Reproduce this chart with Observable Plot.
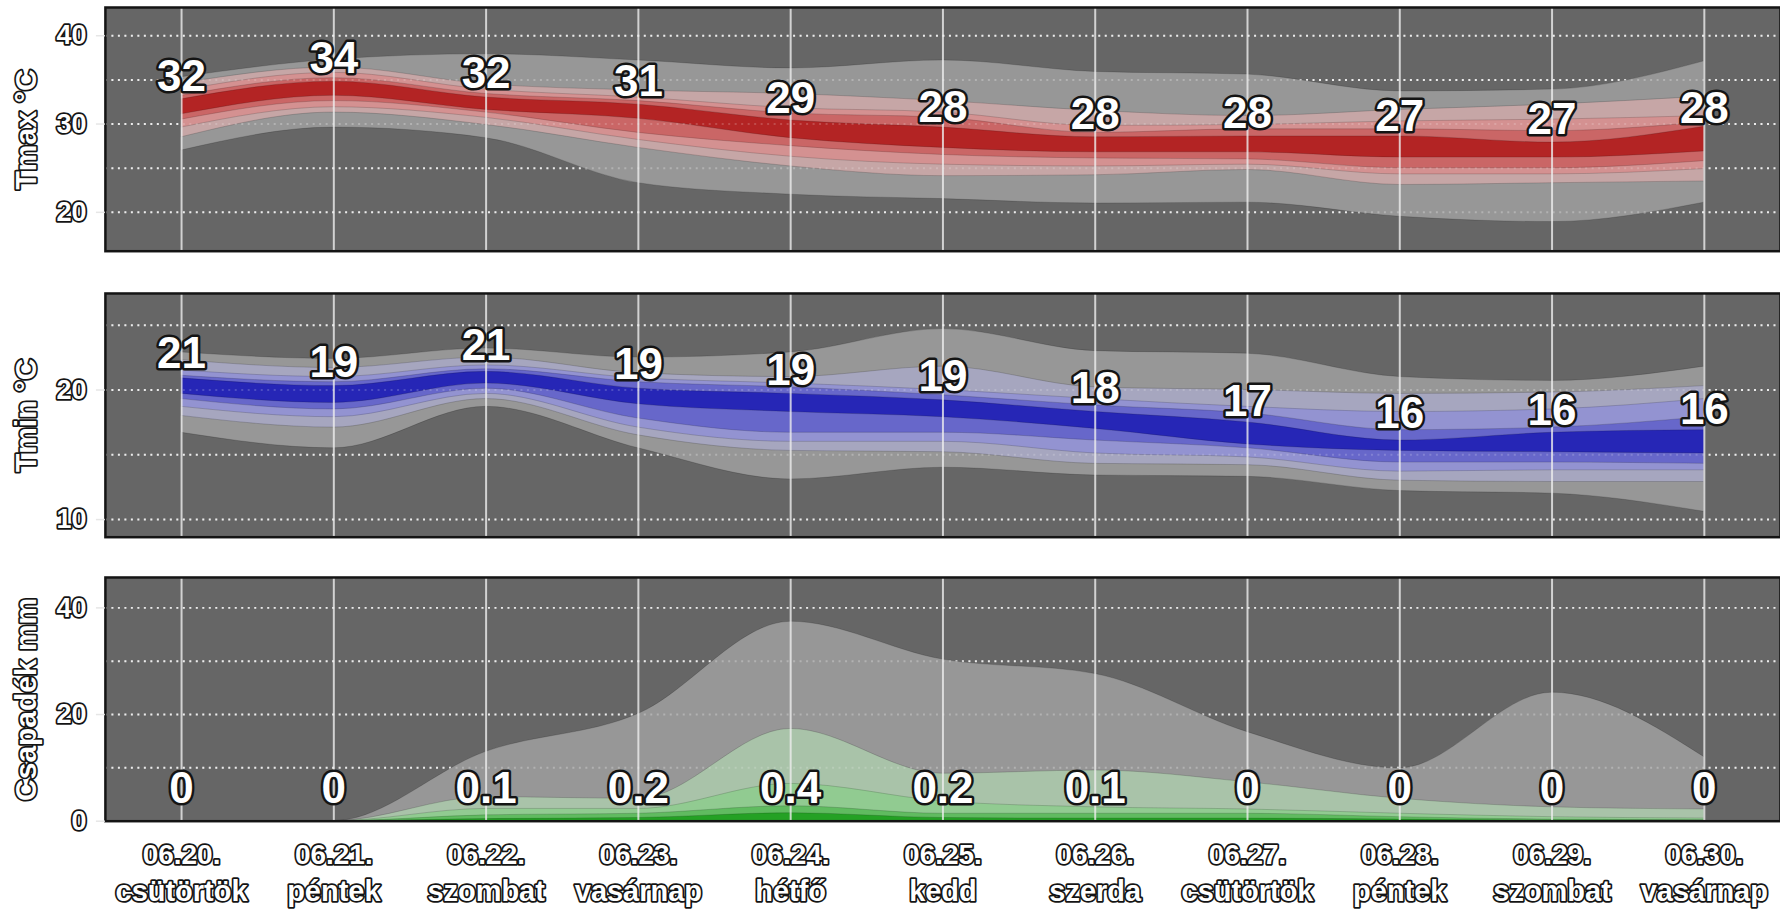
<!DOCTYPE html>
<html><head><meta charset="utf-8">
<script src="https://cdn.jsdelivr.net/npm/d3@7"></script>
<script src="https://cdn.jsdelivr.net/npm/@observablehq/plot@0.6"></script>
<style>
html,body{margin:0;padding:0;background:#fff;overflow:hidden;width:1780px;height:910px}
#chart svg{display:block}
</style></head><body><div id="chart"></div>
<script>
// ---------- data ----------
const days = [0,1,2,3,4,5,6,7,8,9,10];
const dateLabels = ["06.20.","06.21.","06.22.","06.23.","06.24.","06.25.","06.26.","06.27.","06.28.","06.29.","06.30."];
const dayNames = ["csütörtök","péntek","szombat","vasárnap","hétfő","kedd","szerda","csütörtök","péntek","szombat","vasárnap"];

// Tmax °C
const tmaxLabels = [32,34,32,31,29,28,28,28,27,27,28];
const tmaxGreyHi = [35.3,37.3,37.9,37.2,36.3,37.2,35.9,35.6,33.7,33.9,37.1];
const tmaxGreyLo = [27.0,29.6,28.4,23.3,22.0,21.5,21.0,21.1,19.5,18.9,21.1];
const tmaxB1Hi   = [34.6,36.4,34.5,33.8,33.4,32.6,31.5,30.9,31.6,32.2,33.1];
const tmaxB1Lo   = [28.5,31.3,29.9,27.3,25.2,24.1,24.2,24.8,23.1,23.3,23.5];
const tmaxB2Hi   = [33.8,35.8,33.9,33.0,31.8,31.3,29.8,29.9,30.3,30.5,30.9];
const tmaxB2Lo   = [29.6,31.9,30.7,28.2,26.3,25.4,25.2,25.4,24.3,24.3,24.9];
const tmaxB3Hi   = [33.2,35.2,33.4,32.6,31.2,30.7,29.0,29.4,29.4,29.2,30.2];
const tmaxB3Lo   = [30.5,32.6,31.3,29.0,27.5,26.5,26.1,26.0,25.0,25.0,25.8];
const tmaxB4Hi   = [32.8,34.8,33.0,32.2,30.4,29.6,28.5,28.6,28.6,27.9,29.7];
const tmaxB4Lo   = [31.1,33.2,31.6,30.6,28.4,27.3,26.8,26.8,26.2,26.2,26.9];

// Tmin °C
const tminLabels = [21,19,21,19,19,19,18,17,16,16,16];
const tminGreyHi = [22.9,22.4,23.2,22.5,22.9,24.7,23.0,22.8,21.0,20.7,21.8];
const tminGreyLo = [16.7,15.5,18.7,15.5,13.1,14.0,13.4,13.3,12.2,12.0,10.6];
const tminB1Hi   = [22.3,21.7,22.5,21.3,21.0,21.8,20.2,20.0,19.7,19.8,20.3];
const tminB1Lo   = [18.0,17.1,19.3,16.5,15.3,15.2,14.3,14.2,13.0,12.9,12.9];
const tminB2Hi   = [21.5,21.0,21.9,20.9,20.5,20.0,19.3,18.7,18.3,18.5,19.3];
const tminB2Lo   = [18.7,17.9,19.7,17.1,16.0,16.0,15.1,14.8,13.7,13.8,13.8];
const tminB3Hi   = [21.1,20.6,21.6,20.6,20.2,19.6,18.8,18.2,16.9,17.1,17.9];
const tminB3Lo   = [19.3,18.5,20.1,17.8,16.7,16.7,16.1,15.5,14.4,14.4,14.3];
const tminB4Hi   = [20.9,20.3,21.4,20.1,19.7,19.2,18.3,17.5,16.1,16.7,16.9];
const tminB4Lo   = [19.7,19.0,20.5,18.9,18.3,17.9,17.0,15.8,15.3,15.2,15.1];

// Csapadék mm (upper edges, lower edge 0)
const precLabels = ["0","0","0.1","0.2","0.4","0.2","0.1","0","0","0","0"];
const precGrey = [0,0,13.0,20.1,37.4,30.3,27.6,16.7,9.9,24.1,12.0];
const precB1   = [0,0,4.5,4.2,17.3,8.9,9.5,7.3,4.2,2.6,2.2];
const precB2   = [0,0,2.3,2.3,7.0,3.7,2.6,2.2,1.4,0.75,0.5];
const precB3   = [0,0,1.1,1.4,2.8,1.4,1.4,1.4,0.75,0.3,0.2];
const precB4   = [0,0,0.4,0.6,1.5,0.6,0.5,0.5,0.3,0.1,0.1];
const zeros    = [0,0,0,0,0,0,0,0,0,0,0];

// ---------- drawing ----------
const FONT = "Liberation Sans, Arial, sans-serif";
const outlined = {fill: "white", stroke: "#141414", strokeWidth: 5, strokeLinejoin: "round", paintOrder: "stroke", fontFamily: FONT, fontWeight: "bold"};

function panel(o) {
  const marks = [
    Plot.frame({fill: "#666666"}),
    Plot.ruleY(o.grid, {y: d => d, stroke: "white", strokeWidth: 2, strokeDasharray: "2,4.5", strokeOpacity: 0.85}),
    ...o.bands.map(b => Plot.areaY(days, {
      x: d => d, y1: d => b.lo[d], y2: d => b.hi[d], curve: "monotone-x",
      fill: b.color, fillOpacity: 0.93, stroke: "black", strokeOpacity: 0.16, strokeWidth: 1
    })),
    Plot.ruleY(o.grid, {y: d => d, stroke: "white", strokeWidth: 2, strokeDasharray: "2,4.5", strokeOpacity: 0.18}),
    Plot.ruleX(days, {x: d => d, stroke: "#eeeeee", strokeWidth: 2, strokeOpacity: 0.8}),
    Plot.frame({stroke: "#141414", strokeWidth: 2.5}),
    Plot.axisY({ticks: o.ticks, tickSize: 9, tickFormat: () => "", stroke: "#e6e6e6", strokeWidth: 1.5}),
    Plot.text(o.ticks, {y: d => d, text: d => String(d), frameAnchor: "left", dx: -19, textAnchor: "end", fontSize: 27, ...outlined, strokeWidth: 3.5}),
    Plot.text([o.title], {frameAnchor: "left", dx: -79, rotate: -90, textAnchor: "middle", fontSize: 30, ...outlined, strokeWidth: 3.5}),
    Plot.text(days, {x: d => d, y: d => o.labelY(d), text: d => String(o.labels[d]), dy: o.labelDy, fontSize: 44, ...outlined})
  ];
  if (o.xLabels) {
    marks.push(
      Plot.text(days, {x: d => d, text: d => dateLabels[d], frameAnchor: "bottom", dy: 43, fontSize: 28, ...outlined, strokeWidth: 3.5}),
      Plot.text(days, {x: d => d, text: d => dayNames[d], frameAnchor: "bottom", dy: 80, fontSize: 29, ...outlined, strokeWidth: 3.5})
    );
  }
  return Plot.plot({
    width: 1782, height: o.height,
    marginLeft: 105, marginRight: 0, marginTop: o.marginTop, marginBottom: o.marginBottom,
    x: {domain: [-0.5, 10.5], axis: null},
    y: {domain: o.domain},
    style: {background: "white", overflow: "visible"},
    marks
  });
}

const chart = document.getElementById("chart");

chart.append(panel({
  height: 272, marginTop: 7, marginBottom: 21, domain: [15.6, 43.2],
  ticks: [20, 30, 40], grid: [20, 25, 30, 35, 40], title: "Tmax °C",
  bands: [
    {lo: tmaxGreyLo, hi: tmaxGreyHi, color: "#9b9b9b"},
    {lo: tmaxB1Lo, hi: tmaxB1Hi, color: "#c9a7a7"},
    {lo: tmaxB2Lo, hi: tmaxB2Hi, color: "#d58f8f"},
    {lo: tmaxB3Lo, hi: tmaxB3Hi, color: "#c96363"},
    {lo: tmaxB4Lo, hi: tmaxB4Hi, color: "#b21f1f"}
  ],
  labels: tmaxLabels, labelY: d => (tmaxB4Lo[d] + tmaxB4Hi[d]) / 2, labelDy: -30
}));

chart.append(panel({
  height: 286, marginTop: 21, marginBottom: 21, domain: [8.64, 27.45],
  ticks: [10, 20], grid: [10, 15, 20, 25], title: "Tmin °C",
  bands: [
    {lo: tminGreyLo, hi: tminGreyHi, color: "#9b9b9b"},
    {lo: tminB1Lo, hi: tminB1Hi, color: "#a7a7c2"},
    {lo: tminB2Lo, hi: tminB2Hi, color: "#9191d2"},
    {lo: tminB3Lo, hi: tminB3Hi, color: "#6464c9"},
    {lo: tminB4Lo, hi: tminB4Hi, color: "#2121b5"}
  ],
  labels: tminLabels, labelY: d => (tminB4Lo[d] + tminB4Hi[d]) / 2, labelDy: -32
}));

chart.append(panel({
  height: 352, marginTop: 20, marginBottom: 88, domain: [0, 45.7],
  ticks: [0, 20, 40], grid: [10, 20, 30, 40], title: "Csapadék mm",
  bands: [
    {lo: zeros, hi: precGrey, color: "#9b9b9b"},
    {lo: zeros, hi: precB1, color: "#aac6aa"},
    {lo: zeros, hi: precB2, color: "#8fcb8f"},
    {lo: zeros, hi: precB3, color: "#5cb95c"},
    {lo: zeros, hi: precB4, color: "#1f9f1f"}
  ],
  labels: precLabels, labelY: d => 0, labelDy: -32, xLabels: true
}));
</script></body></html>
